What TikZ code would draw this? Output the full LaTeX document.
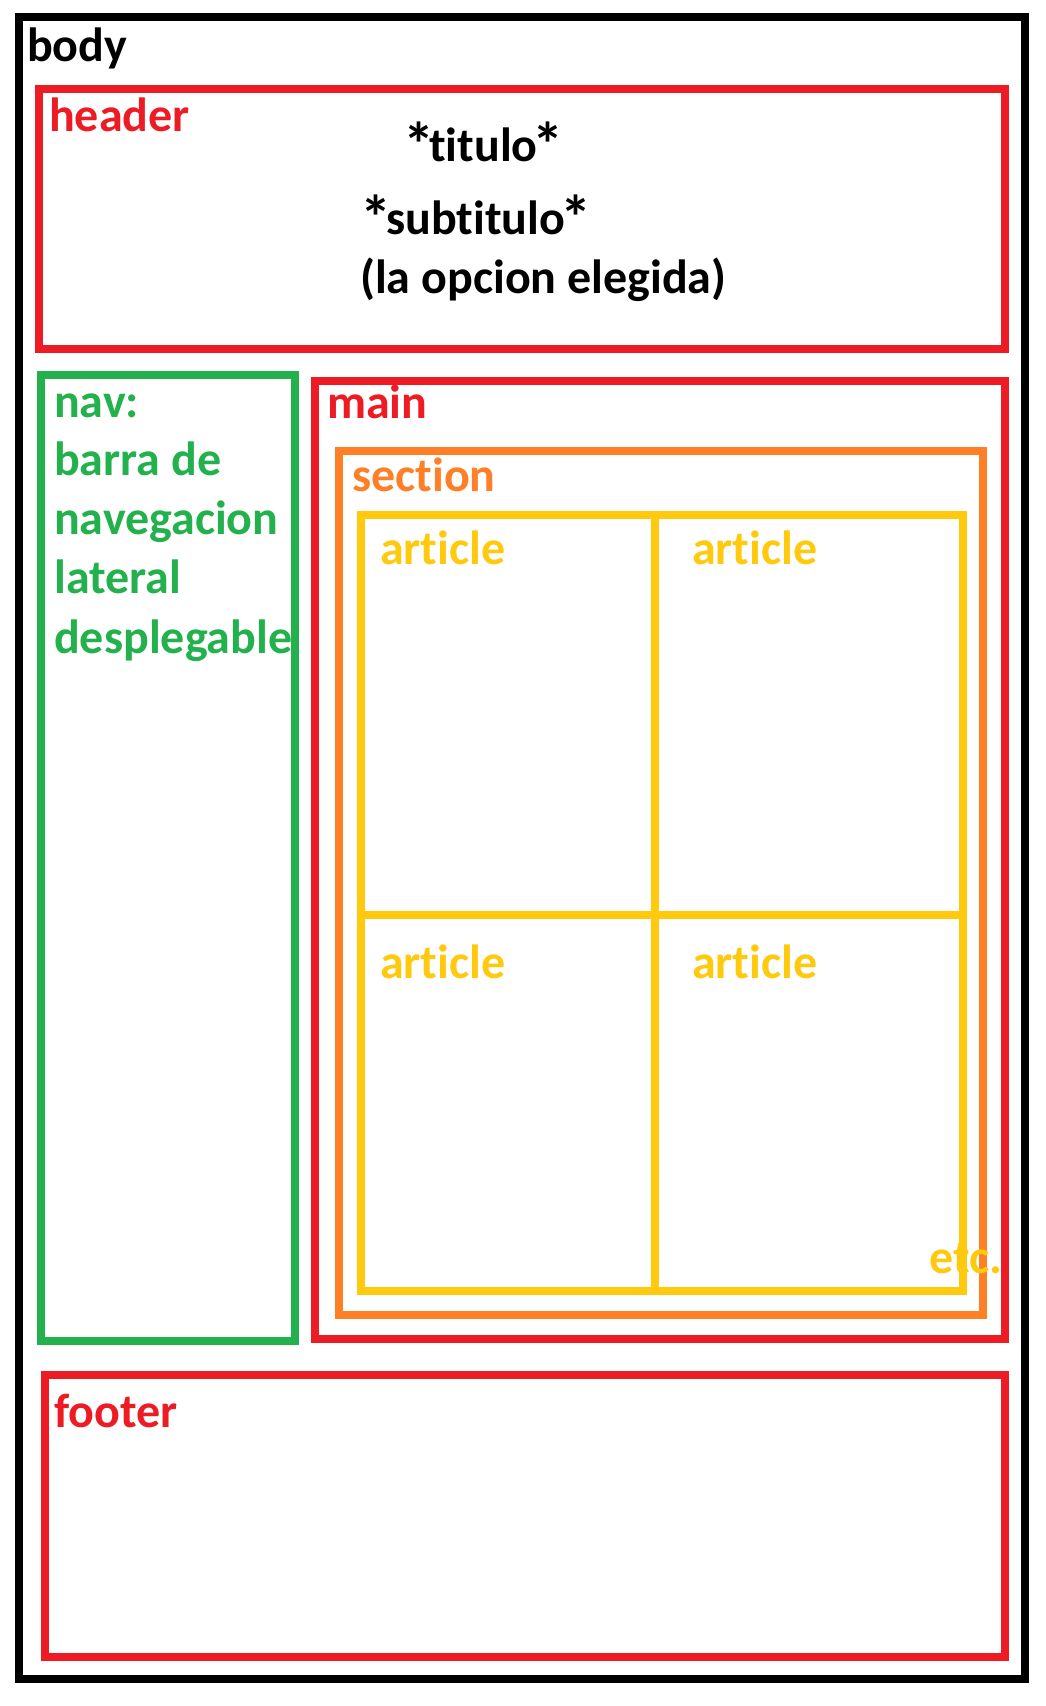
\documentclass[tikz,border=0pt]{standalone}
\usepackage{fontspec}
\setmainfont{Carlito}[Ligatures=NoCommon]
\definecolor{pred}{HTML}{ED1C24}
\definecolor{pgreen}{HTML}{22B14C}
\definecolor{porange}{HTML}{FF7F27}
\definecolor{pyellow}{HTML}{FFC90E}
\newcommand{\myast}{\raisebox{-5pt}{\scalebox{1.3}{*}}}
\begin{document}
\begin{tikzpicture}[x=1pt,y=-1pt,
  boxline/.style={line width=8pt, line join=miter},
  lbl/.style={inner sep=0pt, anchor=base west, font=\fontsize{48}{58}\selectfont\bfseries}
]
\useasboundingbox[fill=white] (0,0) rectangle (1046,1706);
% body
\draw[boxline, black] (19,17) rectangle (1024.7,1679);
% header
\draw[boxline, pred] (39,89) rectangle (1004.7,349);
% nav
\draw[boxline, pgreen] (41,375) rectangle (295,1341);
% main
\draw[boxline, pred] (315,381) rectangle (1004.7,1339);
% section
\draw[boxline, porange] (339,451) rectangle (983,1315);
% articles
\draw[boxline, pyellow] (361,515) rectangle (963,1291);
\coordinate (vtop) at (655,515);
\coordinate (vbot) at (655,1291);
\coordinate (hl) at (361,915);
\coordinate (hr) at (960,915);
\draw[boxline, pyellow] (vtop) -- (vbot);
\draw[boxline, pyellow] (hl) -- (hr);
% footer
\draw[boxline, pred] (45,1375) rectangle (1004.7,1657);

% labels
\node[lbl, text=black] (tbody) at (27,61) {body};
\node[lbl, text=pred] (theader) at (49,131) {header};
\node[lbl, text=black] (ttitulo) at (403,161) {\myast\kern-5pt titulo\kern-5pt\myast};
\node[lbl, text=black] (tsub) at (360,234) {\myast\kern-5pt subtitulo\kern-5pt\myast};
\node[lbl, text=black] (topc) at (360,293) {(la opcion elegida)};
\node[lbl, text=pgreen] (tnav1) at (54,417) {nav:};
\node[lbl, text=pgreen] (tnav2) at (54,475) {barra de};
\node[lbl, text=pgreen] (tnav3) at (54,534) {navegacion};
\node[lbl, text=pgreen] (tnav4) at (54,593) {lateral};
\node[lbl, text=pgreen] (tnav5) at (54,653) {desplegable};
\node[lbl, text=pred] (tmain) at (327,418) {main};
\node[lbl, text=porange] (tsection) at (352,491) {section};
\node[lbl, text=pyellow] (ta1) at (380,564) {article};
\node[lbl, text=pyellow] (ta2) at (692,564) {article};
\node[lbl, text=pyellow] (ta3) at (380,978) {article};
\node[lbl, text=pyellow] (ta4) at (692,978) {article};
\node[lbl, text=pyellow] (tetc) at (929,1273) {etc.};
\node[lbl, text=pred] (tfooter) at (54,1427) {footer};
\end{tikzpicture}
\end{document}
